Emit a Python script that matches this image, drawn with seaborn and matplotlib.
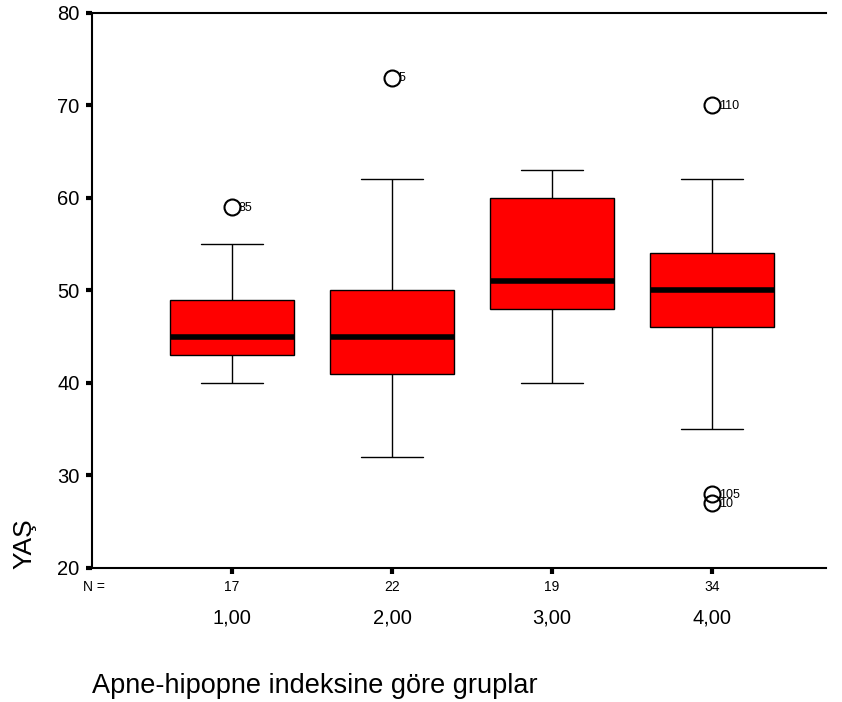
import matplotlib
matplotlib.use("Agg")
import matplotlib.pyplot as plt
import matplotlib.transforms as mtransforms
import seaborn as sns
import pandas as pd

# ages per group (AHI groups)
grp1 = [40, 41, 42, 42, 43, 44, 44, 45, 45, 46, 47, 48, 49, 51, 53, 55, 59]
grp2 = [32, 35, 37, 39, 40, 41, 41, 42, 43, 44, 45, 45, 46, 47, 48, 50, 50,
        52, 55, 58, 62, 73]
grp3 = [40, 43, 45, 47, 48, 48, 49, 50, 50, 51, 53, 55, 58, 60, 60, 61, 62,
        62, 63]
grp4 = [27, 28, 35, 38, 40, 42, 43, 45, 46, 46, 47, 47, 48, 48, 49, 49, 50,
        50, 51, 51, 52, 52, 53, 53, 54, 54, 55, 56, 57, 58, 59, 60, 62, 70]

groups = ["1,00", "2,00", "3,00", "4,00"]
# case ids shown next to outliers: (group index, value, label)
outlier_ids = [(0, 59, "85"), (1, 73, "5"), (3, 70, "110"),
               (3, 28, "105"), (3, 27, "10")]

df = pd.DataFrame({
    "grup": sum([[g] * len(v) for g, v in zip(groups, [grp1, grp2, grp3, grp4])], []),
    "yas": grp1 + grp2 + grp3 + grp4,
})
counts = [len(grp1), len(grp2), len(grp3), len(grp4)]

sns.set_style("white", rc={"text.color": "black", "xtick.color": "black",
                           "ytick.color": "black", "axes.labelcolor": "black"})
plt.rcParams["font.family"] = ["Liberation Sans", "DejaVu Sans"]

fig = plt.figure(figsize=(8.42, 7.02), dpi=100)
ax = fig.add_axes([0.1093, 0.1909, 0.8717, 0.7906])

sns.boxplot(data=df, x="grup", y="yas", order=groups, ax=ax,
            color="#ff0000", saturation=1, linecolor="black", linewidth=1,
            width=0.775, fliersize=11.5,
            medianprops=dict(linewidth=4, color="black"),
            flierprops=dict(marker="o", markerfacecolor="none",
                            markeredgecolor="black", markeredgewidth=1.5))

for gi, val, lab in outlier_ids:
    ax.annotate(lab, (gi, val), xytext=(5, -0.5), textcoords="offset points",
                ha="left", va="center", fontsize=9, zorder=10)

ax.set_xlim(-0.875, 3.7125)
ax.set_ylim(20, 80)
ax.set_yticks([20, 30, 40, 50, 60, 70, 80])
ax.set_xticks(range(4))
ax.set_xticklabels([str(c) for c in counts], fontsize=10)
ax.tick_params(axis="y", labelsize=14.5, direction="out", length=4, width=3,
               left=True, pad=5)
ax.tick_params(axis="x", direction="out", length=4, width=3, bottom=True, pad=5)

for s in ["left", "top", "bottom"]:
    ax.spines[s].set_visible(True)
    ax.spines[s].set_color("black")
    ax.spines[s].set_linewidth(1.5)
ax.spines["right"].set_visible(False)

trans = mtransforms.blended_transform_factory(ax.transData, ax.transAxes)
for i, g in enumerate(groups):
    ax.text(i, -0.090, g, transform=trans, ha="center", va="center", fontsize=14.5)
ax.text(0.002, -0.034, "N =", transform=ax.transAxes, ha="center",
        va="center", fontsize=10)

ax.set_xlabel("")
ax.set_ylabel("")
fig.text(0.1093, 0.0128, "Apne-hipopne indeksine göre gruplar", ha="left",
         va="baseline", fontsize=19.5)
fig.text(0.029, 0.225, "YAŞ", rotation=90, ha="center", va="center", fontsize=19)

fig.savefig("out.png", dpi=100)
